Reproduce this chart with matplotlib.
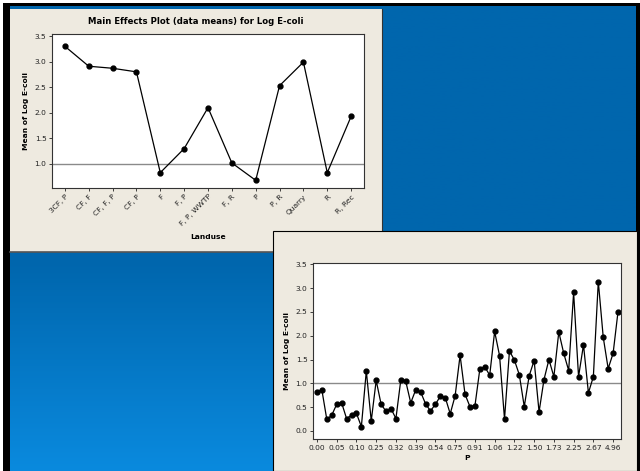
import numpy as np
import matplotlib.pyplot as plt
from matplotlib.patches import Rectangle

# ---- data ----
landuse = ["3CF, P", "CF, F", "CF, F, P", "CF, P", "F", "F, P", "F, P, WWTP",
           "F, R", "P", "P, R", "Quarry", "R", "R, Rec"]
landuse_means = [3.30, 2.91, 2.87, 2.80, 0.83, 1.30, 2.10, 1.02, 0.68, 2.53,
                 2.99, 0.83, 1.93]

p_means = [0.82, 0.86, 0.24, 0.33, 0.56, 0.59, 0.26, 0.33, 0.37, 0.09,
           1.26, 0.21, 1.06, 0.56, 0.41, 0.47, 0.26, 1.08, 1.04, 0.59,
           0.86, 0.82, 0.57, 0.42, 0.56, 0.73, 0.70, 0.36, 0.74, 1.59,
           0.77, 0.51, 0.52, 1.30, 1.35, 1.17, 2.09, 1.58, 0.25, 1.68,
           1.49, 1.18, 0.51, 1.16, 1.48, 0.40, 1.08, 1.50, 1.14, 2.08,
           1.63, 1.27, 2.91, 1.14, 1.81, 0.80, 1.14, 3.14, 1.97, 1.31,
           1.63, 2.51]
p_ticklabels = ["0.00", "0.05", "0.10", "0.25", "0.32", "0.39", "0.54", "0.75",
                "0.91", "1.06", "1.22", "1.50", "1.73", "2.25", "2.67", "4.96"]
overall_mean = 1.0

title = "Main Effects Plot (data means) for Log E-coli"
ylabel = "Mean of Log E-coli"

W, H = 640, 471
beige = "#EEEAE0"

fig = plt.figure(figsize=(6.4, 4.71), dpi=100)
fig.patch.set_facecolor("white")

# slide background in pixel coordinates
bg = fig.add_axes([0, 0, 1, 1])
bg.set_xlim(0, W)
bg.set_ylim(H, 0)
bg.axis("off")

bg.add_patch(Rectangle((3, 3), W - 3, H - 3, facecolor="black", edgecolor="none"))
top = np.array([0x00, 0x66, 0xAD]) / 255
bottom = np.array([0x0A, 0x8A, 0xDE]) / 255
rows = np.linspace(0, 1, 200)
t = np.clip((rows - 0.55) / 0.45, 0, 1)[:, None]
grad = (top * (1 - t) + bottom * t)[:, None, :]
bg.imshow(grad, extent=(10, 636, H, 6), aspect="auto", zorder=1)

# left panel
bg.add_patch(Rectangle((10, 9), 372, 243, facecolor=beige, edgecolor="none", zorder=2))
bg.plot([10, 382], [252, 252], color="#555555", lw=1.2, zorder=3)
bg.plot([382, 382], [9, 252], color="#333333", lw=0.8, zorder=3)
# right panel
bg.add_patch(Rectangle((273, 231), 364, 240, facecolor=beige, edgecolor="black",
                       lw=0.8, zorder=4))

bg.text(196, 22, title, ha="center", va="center", fontsize=6.1, fontweight="bold")
bg.text(455, 250, title, ha="center", va="center", fontsize=6.1, fontweight="bold")


def style(ax):
    ax.tick_params(axis="both", direction="out", length=2.5, width=0.6,
                   labelsize=5.4, pad=1.5, colors="#222222")
    ax.tick_params(top=False, right=False)
    for s in ax.spines.values():
        s.set_linewidth(0.8)
        s.set_color("#333333")
    ax.set_ylabel(ylabel, fontsize=5.4, fontweight="bold", labelpad=4)


# ---- left: Landuse ----
ax1 = fig.add_axes([52 / W, 1 - 188 / H, 312 / W, 154 / H])
ax1.set_zorder(5)
x1 = np.arange(len(landuse))
ax1.axhline(overall_mean, color="#8a8a8a", lw=1.0, zorder=1)
ax1.plot(x1, landuse_means, color="black", lw=0.9, marker="o", ms=3.5, zorder=2)
ax1.set_xlim(-0.54, len(landuse) - 0.46)
ax1.set_ylim(0.53, 3.54)
ax1.set_yticks([1.0, 1.5, 2.0, 2.5, 3.0, 3.5])
ax1.set_yticklabels(["1.0", "1.5", "2.0", "2.5", "3.0", "3.5"])
ax1.set_xticks(x1)
ax1.set_xticklabels(landuse, rotation=45, ha="right", rotation_mode="anchor")
style(ax1)
ax1.set_xlabel("Landuse", fontsize=5.4, fontweight="bold", labelpad=5)

# ---- right: P ----
ax2 = fig.add_axes([313 / W, 1 - 439 / H, 308 / W, 176 / H])
ax2.set_zorder(6)
x2 = np.arange(len(p_means))
ax2.axhline(overall_mean, color="#8a8a8a", lw=1.0, zorder=1)
ax2.plot(x2, p_means, color="black", lw=0.9, marker="o", ms=3.5, zorder=2)
ax2.set_xlim(-0.8, len(p_means) - 0.4)
ax2.set_ylim(-0.17, 3.53)
ax2.set_yticks([0.0, 0.5, 1.0, 1.5, 2.0, 2.5, 3.0, 3.5])
ax2.set_yticklabels(["0.0", "0.5", "1.0", "1.5", "2.0", "2.5", "3.0", "3.5"])
ax2.set_xticks(x2[::4])
ax2.set_xticklabels(p_ticklabels)
style(ax2)
ax2.set_xlabel("P", fontsize=5.4, fontweight="bold", labelpad=3.5)

fig.savefig("out.png", dpi=100)
